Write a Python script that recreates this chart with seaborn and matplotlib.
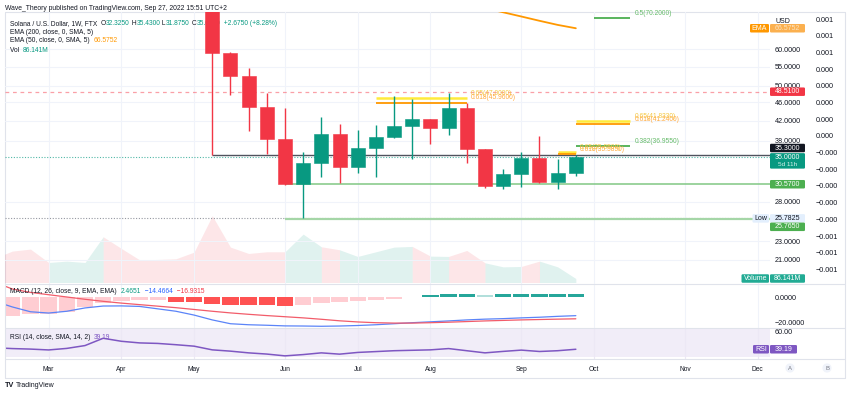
import numpy as np
import pandas as pd
import matplotlib
matplotlib.use("Agg")
import matplotlib.pyplot as plt
import matplotlib.transforms as mtransforms
from matplotlib.patches import FancyBboxPatch
from matplotlib.lines import Line2D
from matplotlib.ticker import NullLocator
import seaborn as sns

# ------------------------------------------------------------------ data
bar0_week = "2022-05-09"          # weekly bar 0
candle_open  = [76.0, 58.7, 52.4, 44.9, 38.4, 30.57, 34.0, 39.3, 33.3, 36.6, 38.6,
                40.8, 42.3, 40.5, 44.8, 36.4, 30.3, 32.1, 34.9, 30.9, 32.325]
candle_high  = [80.0, 59.0, 54.5, 48.3, 44.8, 35.9, 42.8, 41.2, 40.0, 41.0, 47.5,
                46.7, 42.4, 48.3, 45.8, 36.5, 33.0, 35.9, 38.9, 34.7, 35.43]
candle_low   = [35.30, 47.7, 39.9, 35.6, 30.45, 25.7825, 31.7, 30.7, 32.3, 31.7, 38.5,
                34.6, 37.4, 39.1, 34.0, 30.0, 29.8, 30.2, 30.8, 29.9, 31.875]
candle_close = [58.7, 52.4, 44.9, 38.4, 30.57, 34.0, 39.3, 33.3, 36.6, 38.6, 40.8,
                42.3, 40.5, 44.8, 36.4, 30.3, 32.1, 34.9, 30.9, 32.325, 35.0]

indicator_first_bar = -12
volume_m = [518, 677, 720, 432, 461, 432, 986, 734, 490, 497, 511, 655,
            1440, 763, 626, 662, 662, 1044, 770, 706, 562, 662, 763,
            778, 569, 562, 691, 425, 338, 346, 461, 338, 86.141]
earlier_bar_up = [0, 0, 0, 0, 1, 1, 1, 0, 0, 0, 0, 0]
macd_line = [-3.0, -7.6, -11.4, -12.4, -11.0, -8.4, -6.9, -6.8, -7.2, -9.1, -11.0, -14.0,
             -17.8, -20.8, -21.6, -22.0, -22.5, -22.6, -22.8, -22.6, -22.2, -21.6, -20.8,
             -20.0, -19.3, -18.6, -17.8, -17.2, -16.8, -16.2, -15.7, -15.0, -14.4664]
signal_line = [12.0, 6.5, 3.8, 2.0, 0.2, -1.6, -3.2, -4.6, -5.8, -7.0, -8.2, -9.6,
               -11.0, -12.3, -13.4, -14.4, -15.3, -16.2, -17.3, -18.5, -19.4, -20.0, -20.3,
               -20.3, -20.0, -19.6, -19.1, -18.6, -18.2, -17.8, -17.5, -17.2, -16.9315]
macd_hist = [-17.0, -14.7, -13.4, -12.8, -11.2, -8.0, -4.6, -3.2, -2.2, -2.0, -3.5, -4.0,
             -5.4, -5.9, -6.0, -6.1, -6.7, -6.2, -4.6, -4.0, -3.2, -2.4, -1.0,
             0.2, 1.4, 2.2, 2.3, 2.1, 2.2, 2.3, 2.35, 2.4, 2.4651]
rsi_values = [41.0, 40.0, 39.4, 38.4, 40.2, 43.5, 52.0, 48.5, 46.6, 46.0, 44.5, 42.8,
              38.5, 37.0, 35.0, 33.6, 31.5, 33.0, 35.0, 33.5, 35.5, 36.5, 37.5,
              38.0, 38.5, 40.0, 37.5, 35.0, 36.7, 38.2, 36.6, 37.5, 39.19]

ema50_bars = [14, 15, 16, 17, 18, 19, 20]
ema50_values = [75.2, 73.6, 72.1, 70.6, 69.1, 67.7, 66.5752]

hline_resistance = 48.51
hline_black = 35.30
hline_last = 35.00
hline_support = 30.57
hline_low = 25.7825
hline_low_green = 25.765
black_start_bar = 0
green_start_bar = 4

fib_a_span, fib_a_levels, fib_a_labels = (9, 14), [47.0, 45.96], ["0.65(47.0000)", "0.618(45.9600)"]
fib_b_span, fib_b_levels, fib_b_labels = (20, 23), [41.833, 41.24], ["0.65(41.8330)", "0.618(41.2400)"]
fib_c_span, fib_c_levels, fib_c_labels = (20, 23), [36.955], ["0.382(36.9550)"]
fib_d_span, fib_d_levels, fib_d_labels = (19, 20), [35.85, 35.585], ["0.65(35.8500)", "0.618(35.5850)"]
fib_e_span, fib_e_levels, fib_e_labels = (21, 23), [70.2], ["0.5(70.2000)"]

month_names = ["Mar", "Apr", "May", "Jun", "Jul", "Aug", "Sep", "Oct", "Nov", "Dec"]
month_numbers = [3, 4, 5, 6, 7, 8, 9, 10, 11, 12]
price_ticks = [60, 55, 50, 46, 42, 38, 28, 23, 21]
sec_ticks = [0.0007, 0.0006, 0.0005, 0.0004, 0.0003, 0.0002, 0.0001, 0.0,
             -0.0001, -0.0002, -0.0003, -0.0004, -0.0005, -0.0006, -0.0007, -0.0008]
sec_labels = ["0.001", "0.001", "0.001", "0.000", "0.000", "0.000", "0.000", "0.000",
              "\u22120.000", "\u22120.000", "\u22120.000", "\u22120.000", "\u22120.000",
              "\u22120.001", "\u22120.001", "\u22120.001"]
macd_ticks, macd_tick_labels = [0, -20], ["0.0000", "\u221220.0000"]
rsi_ticks, rsi_tick_labels = [60], ["60.00"]

# ------------------------------------------------------------------ style
sns.set_theme(style="white")
plt.rcParams['font.family'] = ['Liberation Sans', 'DejaVu Sans']
TXT = '#131722'
GREEN = '#089981'
RED = '#f23645'
GRID = '#f0f3fa'
BORDER = '#e0e3eb'

W, H = 850, 394
fig = plt.figure(figsize=(W / 100, H / 100), dpi=100)
fig.patch.set_facecolor('white')
PX = mtransforms.Affine2D().scale(1, -1).translate(0, H)   # top-left pixel coords -> display


def pane(x0, y0, x1, y1):
    a = fig.add_axes([x0 / W, 1 - y1 / H, (x1 - x0) / W, (y1 - y0) / H])
    for s in a.spines.values():
        s.set_visible(False)
    return a


XL = (-11.4, 30.68)
axv = pane(5, 215.7, 770, 282.5)
axp = pane(5, 12, 770, 283.5)
axm = pane(5, 283.5, 770, 327.8)
axr = pane(5, 327.8, 770, 359.3)
axv.set_zorder(1)
axp.set_zorder(2)
axp.patch.set_alpha(0)

# month positions (first weekly bar of each month)
b0 = pd.Timestamp(bar0_week)
month_pos = []
for m in month_numbers:
    d = pd.Timestamp(2022, m, 1)
    d = d + pd.Timedelta(days=(7 - d.weekday()) % 7)
    month_pos.append((d - b0).days / 7)

bars = np.arange(len(candle_open))
ind_x = np.arange(indicator_first_bar, indicator_first_bar + len(volume_m))
o, hi, lo, c = map(np.array, (candle_open, candle_high, candle_low, candle_close))
up = c >= o
ccol = np.where(up, GREEN, RED)

# ------------------------------------------------------------------ volume
bar_up = list(earlier_bar_up) + [int(u) for u in up]
k = 0
n = len(ind_x)
while k < n - 1:
    col_up = bar_up[k + 1]
    j = k
    while j < n - 1 and bar_up[j + 1] == col_up:
        j += 1
    xs = ind_x[k:j + 1]
    ys = np.array(volume_m[k:j + 1])
    axv.fill_between(xs, 0, ys, color=GREEN if col_up else RED, alpha=0.12, lw=0)
    k = j
axv.set_xlim(XL)
axv.set_ylim(0, max(volume_m))
axv.axis('off')

# ------------------------------------------------------------------ price pane
for mp in month_pos:
    axp.axvline(mp, color=GRID, lw=0.8, zorder=0.5)
for t in price_ticks:
    axp.axhline(t, color=GRID, lw=0.8, zorder=0.5)

axp.axhline(hline_resistance, color='#f7525f', alpha=0.55, lw=0.9, ls=(0, (3, 3)), zorder=2)
axp.axhline(hline_last, color=GREEN, alpha=0.7, lw=0.8, ls=(0, (1, 1.5)), zorder=2)
axp.axhline(hline_low, color='#9598a1', lw=0.8, ls=(0, (1, 1.5)), zorder=2)
axp.hlines(hline_black, black_start_bar, XL[1], color='#50535e', lw=1.0, zorder=2)
axp.hlines(hline_support, green_start_bar, XL[1], color='#81c784', lw=1.1, zorder=2)
axp.hlines(hline_low_green, green_start_bar, XL[1], color='#a5d6a7', lw=1.6, zorder=2)

FIBC = {'0.65': ('#ffeb3b', '#f5c842', 1.8), '0.618': ('#ff9800', '#ffab40', 1.3),
        '0.382': ('#4caf50', '#66bb6a', 1.3), '0.5': ('#4caf50', '#66bb6a', 1.3)}
for span, levels, labels in [(fib_a_span, fib_a_levels, fib_a_labels),
                             (fib_b_span, fib_b_levels, fib_b_labels),
                             (fib_c_span, fib_c_levels, fib_c_labels),
                             (fib_d_span, fib_d_levels, fib_d_labels),
                             (fib_e_span, fib_e_levels, fib_e_labels)]:
    for lv, lb in zip(levels, labels):
        lc, tc, lw = FIBC[lb.split('(')[0]]
        axp.hlines(lv, span[0], span[1], color=lc, lw=lw, zorder=2.2)
        axp.annotate(lb, xy=(span[1], lv), xytext=(3.0, 3.3), textcoords='offset points',
                     ha='left', va='center', fontsize=4.8, color=tc, zorder=2.3,
                     annotation_clip=False)

axp.vlines(bars, lo, hi, colors=ccol, lw=1.0, zorder=3)
axp.bar(bars, np.abs(c - o), bottom=np.minimum(o, c), width=0.77, color=ccol,
        edgecolor=ccol, lw=0.4, zorder=4)
sns.lineplot(x=ema50_bars, y=ema50_values, ax=axp, color='#ff9800', lw=1.3, zorder=3.5)

axp.set_yscale('log')
axp.set_xlim(XL)
axp.set_ylim(18.63, 72.2)
axp.set_xlabel('')
axp.set_ylabel('')

axs = axp.twinx()
for s in axs.spines.values():
    s.set_visible(False)
axs.set_ylim(-0.000884, 0.000742)
axs.set_yticks(sec_ticks, sec_labels)
axs.tick_params(axis='y', length=0, pad=33, labelsize=5.2, labelcolor=TXT,
                left=False, labelleft=False, right=True, labelright=True)

axp.yaxis.set_minor_locator(NullLocator())
axp.set_yticks(price_ticks, [f"{t:.4f}" for t in price_ticks])
axp.yaxis.tick_right()
axp.tick_params(axis='y', length=0, pad=3.6, labelsize=5.2, labelcolor=TXT,
                left=False, labelleft=False, right=True, labelright=True)
axp.tick_params(axis='x', bottom=False, labelbottom=False)

# ------------------------------------------------------------------ MACD pane
hcol = []
for i, v in enumerate(macd_hist):
    prev = macd_hist[i - 1] if i else v
    if v >= 0:
        hcol.append('#26a69a' if v >= prev else '#b2dfdb')
    else:
        hcol.append('#ffcdd2' if v > prev else '#ff5252')
for mp in month_pos:
    axm.axvline(mp, color=GRID, lw=0.8, zorder=0.5)
axm.bar(ind_x, macd_hist, width=0.9, color=hcol, lw=0, zorder=2)
sns.lineplot(x=ind_x, y=macd_line, ax=axm, color='#5b84f8', lw=0.9, zorder=3)
sns.lineplot(x=ind_x, y=signal_line, ax=axm, color='#f25c6a', lw=0.9, zorder=3)
axm.set_xlim(XL)
axm.set_ylim(-24, 10.8)
axm.set_yticks(macd_ticks, macd_tick_labels)
axm.yaxis.tick_right()
axm.tick_params(axis='y', length=0, pad=3.6, labelsize=5.2, labelcolor=TXT)
axm.tick_params(axis='x', bottom=False, labelbottom=False)
axm.set_xlabel('')
axm.set_ylabel('')

# ------------------------------------------------------------------ RSI pane
axr.axhspan(30, 70, color='#7e57c2', alpha=0.1, lw=0, zorder=0.2)
for mp in month_pos:
    axr.axvline(mp, color='#ece8f5', lw=0.8, zorder=0.5)
sns.lineplot(x=ind_x, y=rsi_values, ax=axr, color='#7e57c2', lw=1.1, zorder=3)
axr.set_xlim(XL)
axr.set_ylim(27.5, 64.2)
axr.set_yticks(rsi_ticks, rsi_tick_labels)
axr.yaxis.tick_right()
axr.tick_params(axis='y', length=0, pad=3.6, labelsize=5.2, labelcolor=TXT)
axr.set_xticks(month_pos, month_names)
axr.tick_params(axis='x', length=0, pad=4.6, labelsize=4.8, labelcolor=TXT)
axr.set_xlabel('')
axr.set_ylabel('')

# ------------------------------------------------------------------ frame lines
for (x0, y0, x1, y1) in [(5, 12, 845, 12), (5, 378, 845, 378), (5, 12, 5, 378), (845, 12, 845, 378),
                         (5, 283.5, 845, 283.5), (5, 327.8, 845, 327.8), (5, 359.3, 845, 359.3)]:
    fig.add_artist(Line2D([x0, x1], [y0, y1], transform=PX, color=BORDER, lw=0.8, zorder=0.5))

# ------------------------------------------------------------------ texts
renderer = fig.canvas.get_renderer()


def seq_text(target, x, y, parts, fs=4.8, zorder=1):
    for s, col in parts:
        t = target.text(x, y, s, transform=PX, color=col, fontsize=fs, ha='left',
                        va='center', zorder=zorder, clip_on=False)
        x += t.get_window_extent(renderer=renderer).width


fig.text(5, 8, "Wave_Theory published on TradingView.com, Sep 27, 2022 15:51 UTC+2",
         transform=PX, fontsize=4.9, color=TXT, ha='left', va='center')
seq_text(axp, 10, 23.3, [("Solana / U.S. Dollar, 1W, FTX  ", TXT), ("O", TXT), (f"{candle_open[-1]:.4f}", GREEN),
                         (" H", TXT), (f"{candle_high[-1]:.4f}", GREEN), (" L", TXT),
                         (f"{candle_low[-1]:.4f}", GREEN), (" C", TXT), (f"{candle_close[-1]:.4f}", GREEN),
                         ("  +2.6750 (+8.28%)", GREEN)])
seq_text(axp, 10, 32, [("EMA (200, close, 0, SMA, 5)", TXT)])
seq_text(axp, 10, 41, [("EMA (50, close, 0, SMA, 5)  ", TXT), (f"{ema50_values[-1]:.4f}", '#ff9800')])
seq_text(axp, 10, 50, [("Vol  ", TXT), (f"{volume_m[-1]:.3f}M", GREEN)])
seq_text(axm, 10, 291.7, [("MACD (12, 26, close, 9, EMA, EMA)  ", TXT), (f"{macd_hist[-1]:.4f}", GREEN),
                          (f"  \u2212{abs(macd_line[-1]):.4f}", '#2962ff'),
                          (f"  \u2212{abs(signal_line[-1]):.4f}", RED)], zorder=5)
seq_text(axr, 10, 337.3, [("RSI (14, close, SMA, 14, 2)  ", TXT), (f"{rsi_values[-1]:.2f}", '#7e57c2')], zorder=5)

fig.text(775, 21.5, "USD", transform=PX, fontsize=5.0, color=TXT, ha='left', va='center')


def ypix(ax, v):
    return H - ax.transData.transform((0.0, v))[1]


def tag(x0, x1, yc, text, fc, tc='white', h=8.5, fs=5.0):
    fig.add_artist(FancyBboxPatch((x0, yc - h / 2), x1 - x0, h,
                                  boxstyle="round,pad=0,rounding_size=1.2",
                                  transform=PX, fc=fc, ec='none', zorder=10))
    fig.text((x0 + x1) / 2, yc, text, transform=PX, ha='center', va='center',
             color=tc, fontsize=fs, zorder=11)


y_ema = ypix(axp, ema50_values[-1])
tag(750, 769, y_ema, "EMA", '#ff9800')
tag(770, 805, y_ema, f"{ema50_values[-1]:.4f}", '#fbb04f', tc='#fde3bf')
tag(770, 805, ypix(axp, hline_resistance), f"{hline_resistance:.4f}", RED)
tag(770, 805, ypix(axp, hline_black) - 7.4, f"{hline_black:.4f}", TXT)
y_last = ypix(axp, hline_last)
fig.add_artist(FancyBboxPatch((770, y_last - 4), 35, 15.5, boxstyle="round,pad=0,rounding_size=1.2",
                              transform=PX, fc=GREEN, ec='none', zorder=10))
fig.text(787.5, y_last, f"{hline_last:.4f}", transform=PX, ha='center', va='center',
         color='white', fontsize=5.0, zorder=11)
fig.text(787.5, y_last + 7.3, "5d 11h", transform=PX, ha='center', va='center',
         color='#d5f0eb', fontsize=4.6, zorder=11)
tag(770, 805, ypix(axp, hline_support), f"{hline_support:.4f}", '#4caf50')
y_low = ypix(axp, hline_low)
tag(752.5, 769, y_low, "Low", '#e3effd', tc=TXT)
tag(770, 805, y_low, f"{hline_low:.4f}", '#e3effd', tc=TXT)
tag(770, 805, ypix(axp, hline_low_green) + 8.3, f"{hline_low_green:.4f}", '#4caf50')
y_vol = ypix(axv, volume_m[-1])
tag(741.5, 769, y_vol, "Volume", '#22ab94')
tag(770, 805, y_vol, f"{volume_m[-1]:.3f}M", '#22ab94')
y_rsi = ypix(axr, rsi_values[-1])
tag(753, 769, y_rsi, "RSI", '#7e57c2')
tag(770, 797, y_rsi, f"{rsi_values[-1]:.2f}", '#7e57c2')

for xc, letter in [(790, "A"), (827, "B")]:
    fig.text(xc, 368, letter, transform=PX, ha='center', va='center', fontsize=4.3, color='#787b86',
             bbox=dict(boxstyle='circle,pad=0.35', fc='#f0f3fa', ec='none'))

fig.text(5, 385.5, "TV", transform=PX, ha='left', va='center', fontsize=5.2, color=TXT, fontweight='bold')
fig.text(15.5, 385.5, "TradingView", transform=PX, ha='left', va='center', fontsize=5.0, color=TXT)

fig.savefig("out.png", dpi=100)
